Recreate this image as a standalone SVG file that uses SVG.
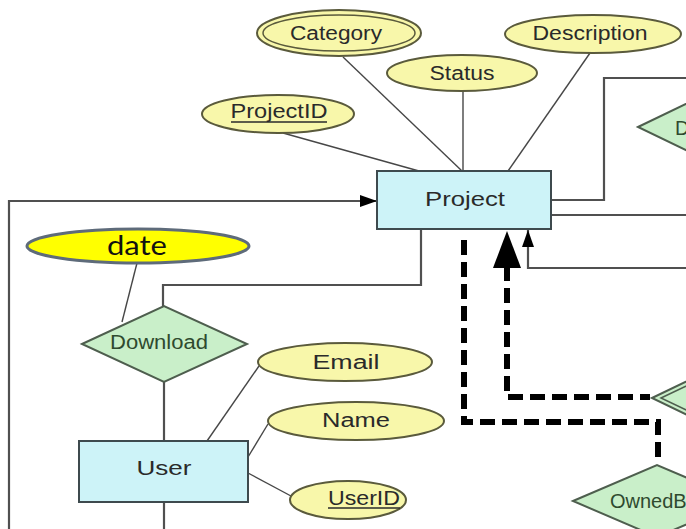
<svg xmlns="http://www.w3.org/2000/svg" width="686" height="529" viewBox="0 0 686 529">
<style>
.attr{fill:#f8f7aa;stroke:#5a5a3c;stroke-width:2}
.ent{fill:#cdf3f8;stroke:#3e4a4e;stroke-width:2}
.rel{fill:#c9efc9;stroke:#4e5e4e;stroke-width:2}
.t{font-family:"Liberation Sans",Arial,sans-serif;font-size:20px;fill:#2a2a2a;text-anchor:middle}
.tr{font-family:"Liberation Sans",Arial,sans-serif;font-size:20px;fill:#2f4a2f}
.ln{fill:none;stroke:#474747;stroke-width:1.4}
.cn{fill:none;stroke:#505050;stroke-width:2.2}
.dash{fill:none;stroke:#000;stroke-width:6;stroke-dasharray:15 7}
.ul{stroke:#2a2a2a;stroke-width:1.4}
</style>
<defs>
<marker id="arr" markerUnits="userSpaceOnUse" markerWidth="18" markerHeight="14" refX="17" refY="7" orient="auto">
<path d="M0,1 L17,7 L0,13 Z" fill="#000"/>
</marker>
</defs>
<rect width="686" height="529" fill="#fff"/>
<g id="connectors">
<line class="ln" x1="283" y1="133" x2="419" y2="171"/>
<line class="ln" x1="343" y1="57" x2="462" y2="171"/>
<line class="ln" x1="463" y1="92" x2="463" y2="171"/>
<line class="ln" x1="590" y1="53" x2="508" y2="171"/>
<path class="cn" d="M552,200 H604 V78 H686"/>
<path class="cn" d="M552,215 H686"/>
<path class="cn" d="M686,268 H528 V230" marker-end="url(#arr)"/>
<path class="cn" d="M9,529 V201 H377" marker-end="url(#arr)"/>
<path class="cn" d="M163,306 V285 H421 V229"/>
<line class="ln" x1="137" y1="263" x2="122" y2="322"/>
<line class="cn" x1="164" y1="382" x2="164" y2="441"/>
<line class="cn" x1="164" y1="502" x2="164" y2="529"/>
<line class="ln" x1="259" y1="366" x2="207" y2="441"/>
<line class="ln" x1="268" y1="424" x2="248" y2="457"/>
<line class="ln" x1="248" y1="473" x2="291" y2="496"/>
<path class="dash" d="M464,240 V422 H658 V462"/>
<path class="dash" d="M507,266 V397 H650"/>
<polygon points="507,231 493,268 521,268" fill="#000"/>
</g>
<g id="category">
<ellipse class="attr" cx="339" cy="33" rx="82" ry="23"/>
<ellipse fill="none" stroke="#5a5a3c" stroke-width="1.5" cx="339" cy="33" rx="76" ry="18"/>
<text class="t" x="336" y="40" textLength="92" lengthAdjust="spacingAndGlyphs">Category</text>
</g>
<g id="status">
<ellipse class="attr" cx="462" cy="73" rx="75" ry="18"/>
<text class="t" x="462" y="80" textLength="65" lengthAdjust="spacingAndGlyphs">Status</text>
</g>
<g id="description">
<ellipse class="attr" cx="593" cy="34" rx="88" ry="19"/>
<text class="t" x="590" y="40" textLength="115" lengthAdjust="spacingAndGlyphs">Description</text>
</g>
<g id="projectid">
<ellipse class="attr" cx="278" cy="114" rx="76" ry="19"/>
<text class="t" x="279" y="118" textLength="97" lengthAdjust="spacingAndGlyphs">ProjectID</text>
<line class="ul" x1="231" y1="122" x2="327" y2="122"/>
</g>
<g id="project">
<rect class="ent" x="377" y="171" width="174" height="58"/>
<text class="t" x="465" y="206" textLength="80" lengthAdjust="spacingAndGlyphs">Project</text>
</g>
<g id="rel-d">
<polygon class="rel" points="638,127 721,87 804,127 721,167"/>
<text class="tr" x="675" y="135">D</text>
</g>
<g id="rel-weak">
<polygon class="rel" points="652,398 735,358 818,398 735,438"/>
<polygon fill="none" stroke="#4e5e4e" stroke-width="1.5" points="661,398 735,363 809,398 735,433"/>
</g>
<g id="ownedby">
<polygon class="rel" points="573,501 657,465 741,501 657,537"/>
<text class="tr" x="610" y="508">OwnedBy</text>
</g>
<g id="date">
<ellipse cx="138" cy="246" rx="111" ry="17" fill="#ffff00" stroke="#5e6b7a" stroke-width="3"/>
<text x="137" y="255" font-family="Lato,'Open Sans',sans-serif" font-size="26" fill="#111" text-anchor="middle" textLength="60" lengthAdjust="spacingAndGlyphs">date</text>
</g>
<g id="download">
<polygon class="rel" points="82,344 164,306 247,344 164,382"/>
<text class="tr" x="159" y="349" text-anchor="middle" textLength="98" lengthAdjust="spacingAndGlyphs">Download</text>
</g>
<g id="user">
<rect class="ent" x="79" y="441" width="169" height="61"/>
<text class="t" x="164" y="475" textLength="55" lengthAdjust="spacingAndGlyphs">User</text>
</g>
<g id="email">
<ellipse class="attr" cx="345" cy="362" rx="87" ry="19"/>
<text class="t" x="346" y="369" textLength="67" lengthAdjust="spacingAndGlyphs">Email</text>
</g>
<g id="name">
<ellipse class="attr" cx="356" cy="421" rx="88" ry="19"/>
<text class="t" x="356" y="427" textLength="68" lengthAdjust="spacingAndGlyphs">Name</text>
</g>
<g id="userid">
<ellipse class="attr" cx="348" cy="500" rx="58" ry="19"/>
<text class="t" x="364" y="505" textLength="72" lengthAdjust="spacingAndGlyphs">UserID</text>
<line class="ul" x1="328" y1="508" x2="400" y2="508"/>
</g>
</svg>
